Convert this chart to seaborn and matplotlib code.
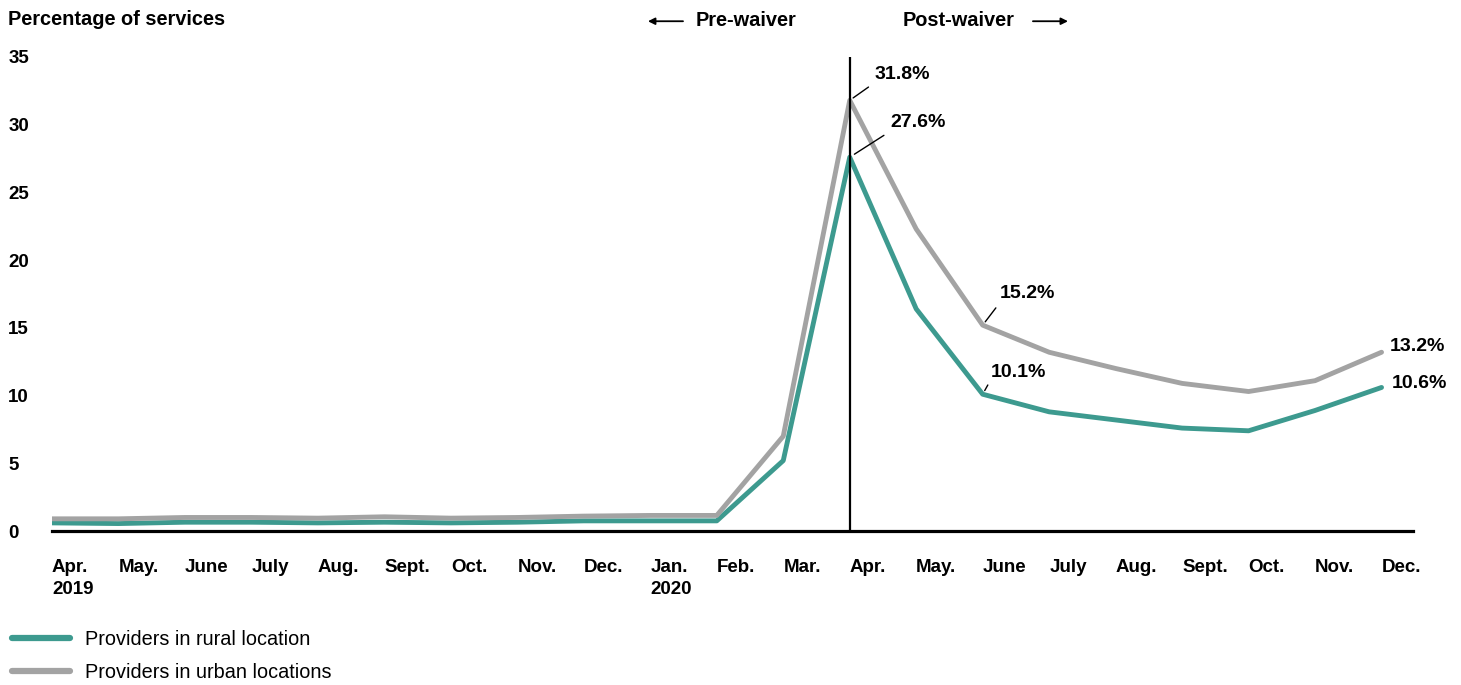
import pandas as pd
import seaborn as sns
import matplotlib.pyplot as plt
from matplotlib.patches import FancyArrowPatch

months = ['Apr.\n2019', 'May.', 'June', 'July', 'Aug.', 'Sept.', 'Oct.', 'Nov.', 'Dec.',
          'Jan.\n2020', 'Feb.', 'Mar.', 'Apr.', 'May.', 'June', 'July', 'Aug.', 'Sept.',
          'Oct.', 'Nov.', 'Dec.']
rural = [0.6, 0.55, 0.65, 0.65, 0.6, 0.65, 0.6, 0.65, 0.75, 0.75, 0.75,
         5.2, 27.6, 16.4, 10.1, 8.8, 8.2, 7.6, 7.4, 8.9, 10.6]
urban = [0.9, 0.9, 1.0, 1.0, 0.95, 1.05, 0.95, 1.0, 1.1, 1.15, 1.15,
         7.0, 31.8, 22.3, 15.2, 13.2, 12.0, 10.9, 10.3, 11.1, 13.2]
series_names = ['Providers in rural location', 'Providers in urban locations']
colors = ['#3d9a8f', '#a3a3a3']

df = pd.DataFrame({
    'idx': list(range(len(months))) * 2,
    'value': rural + urban,
    'series': [series_names[0]] * len(months) + [series_names[1]] * len(months),
})

sns.set_style('white')
plt.rcParams['font.family'] = ['Liberation Sans', 'DejaVu Sans']
plt.rcParams['text.color'] = 'black'
plt.rcParams['xtick.color'] = 'black'
plt.rcParams['ytick.color'] = 'black'

fig = plt.figure(figsize=(14.61, 6.85), dpi=100)
ax = fig.add_axes([0.0356, 0.2248, 0.967 - 0.0356, 0.9168 - 0.2248])

sns.lineplot(data=df, x='idx', y='value', hue='series', hue_order=series_names,
             palette=colors, linewidth=3.5, ax=ax)

ax.set_xlim(0, 20.47)
ax.set_ylim(0, 35)
ax.set_xlabel('')
ax.set_ylabel('')
for s in ['top', 'right', 'left']:
    ax.spines[s].set_visible(False)
ax.spines['bottom'].set_linewidth(2.3)
ax.spines['bottom'].set_color('black')

ax.set_xticks(range(len(months)))
ax.set_xticklabels(months, fontsize=13.5, fontweight='bold', ha='left', linespacing=1.35)
ax.set_yticks(range(0, 36, 5))
ax.set_yticklabels([str(v) for v in range(0, 36, 5)], fontsize=13.5, fontweight='bold', ha='left')
ax.tick_params(axis='x', length=0, pad=20.5)
ax.tick_params(axis='y', length=0, pad=31.5)

# waiver divider
ax.axvline(12, ymin=0, ymax=1, color='black', linewidth=1.6)

# value labels
lab_kw = dict(fontsize=14, fontweight='bold', ha='left', va='center', textcoords='offset points')
line_kw = dict(arrowstyle='-', color='black', linewidth=1.0, relpos=(0, 0))
ax.annotate('31.8%', xy=(12, urban[12]), xytext=(17.5, 18.5),
            arrowprops=dict(shrinkA=2, shrinkB=3, **line_kw), **lab_kw)
ax.annotate('27.6%', xy=(12, rural[12]), xytext=(29.5, 25),
            arrowprops=dict(shrinkA=3, shrinkB=4, **line_kw), **lab_kw)
ax.annotate('15.2%', xy=(14, urban[14]), xytext=(12.5, 22.5),
            arrowprops=dict(shrinkA=2, shrinkB=3, **line_kw), **lab_kw)
ax.annotate('10.1%', xy=(14, rural[14]), xytext=(5.5, 16),
            arrowprops=dict(shrinkA=1, shrinkB=3, **line_kw), **lab_kw)
ax.annotate('13.2%', xy=(20, urban[20]), xytext=(6, 4), **lab_kw)
ax.annotate('10.6%', xy=(20, rural[20]), xytext=(7, 2.5), **lab_kw)

# header texts
fig.text(0.0055, 0.972, 'Percentage of services', fontsize=14.4, fontweight='bold', va='center')
fig.text(0.4764, 0.970, 'Pre-waiver', fontsize=14.4, fontweight='bold', va='center')
fig.text(0.618, 0.970, 'Post-waiver', fontsize=14.4, fontweight='bold', va='center')
arr = dict(arrowstyle='-|>', color='black', linewidth=1.3, mutation_scale=10,
           shrinkA=0, shrinkB=0)
fig.add_artist(FancyArrowPatch((0.4675, 0.969), (0.4435, 0.969),
                               transform=fig.transFigure, **arr))
fig.add_artist(FancyArrowPatch((0.707, 0.969), (0.731, 0.969),
                               transform=fig.transFigure, **arr))

sns.move_legend(ax, 'lower left', bbox_to_anchor=(-0.004, -0.022), bbox_transform=fig.transFigure,
                frameon=False, title=None, fontsize=14.3, handlelength=2.9, handletextpad=0.75,
                labelspacing=0.72)
for h in ax.get_legend().get_lines():
    h.set_linewidth(4.5)

fig.savefig('out.png', dpi=100)
